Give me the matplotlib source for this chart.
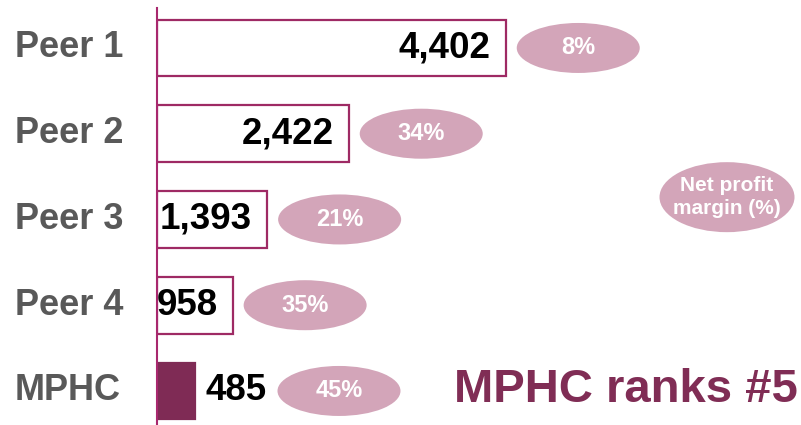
import matplotlib.pyplot as plt
from matplotlib.patches import Ellipse

# data
companies = ["Peer 1", "Peer 2", "Peer 3", "Peer 4", "MPHC"]
revenue = [4402, 2422, 1393, 958, 485]
margin = [8, 34, 21, 35, 45]

plum = "#9E2A64"
dark_plum = "#7F2B55"
pink = "#D3A5B9"
grey = "#595959"
font = "Liberation Sans"

fig = plt.figure(figsize=(8.01, 4.25), dpi=100)
ax = fig.add_axes([157 / 801, 0, 644 / 801, 417 / 425])

px = 0.0793          # pixels per unit of revenue
xmax = 644 / px
ax.set_xlim(0, xmax)
ax.set_ylim(4.397, -0.466)

y = list(range(len(companies)))
fills = ["white"] * (len(companies) - 1) + [dark_plum]
edges = [plum] * (len(companies) - 1) + [dark_plum]
ax.barh(y, revenue, height=0.66, color=fills, edgecolor=edges, linewidth=1.6, zorder=2)

ell_w = 123 / px
ell_h = 50 / 85.75
for i, (name, v, m) in enumerate(zip(companies, revenue, margin)):
    ax.text(-142 / px, i, name, ha="left", va="center", fontsize=26,
            fontweight="bold", color=grey, family=font, clip_on=False)
    if name == "MPHC":
        ax.annotate(f"{v:,}", (v, i), xytext=(7, 0), textcoords="offset points",
                    ha="left", va="center", fontsize=26.5, fontweight="bold",
                    color="black", family=font)
        cx = v + 1810
    else:
        ax.annotate(f"{v:,}", (v, i), xytext=(-11, 0), textcoords="offset points",
                    ha="right", va="center", fontsize=26.5, fontweight="bold",
                    color="black", family=font)
        cx = v + 910
    ax.add_patch(Ellipse((cx, i), ell_w, ell_h, facecolor=pink, edgecolor="none", zorder=3))
    ax.text(cx, i, f"{m}%", ha="center", va="center", fontsize=17, fontweight="bold",
            color="white", family=font, zorder=4)

# legend bubble
ax.add_patch(Ellipse(((727 - 157) / px, 1.74), 135 / px, 70 / 85.75,
                     facecolor=pink, edgecolor="none", zorder=3, clip_on=False))
ax.text((727 - 157) / px, 1.74, "Net profit\nmargin (%)", ha="center", va="center",
        fontsize=15, fontweight="bold", color="white", family=font, zorder=4,
        linespacing=1.3)

fig.text(0.996, 1 - 390 / 425, "MPHC ranks #5", ha="right", va="center",
         fontsize=34, fontweight="bold", color="#802D55", family=font)

for s in ["top", "right", "bottom"]:
    ax.spines[s].set_visible(False)
ax.spines["left"].set_color("#A8286E")
ax.spines["left"].set_linewidth(1.5)
ax.set_xticks([])
ax.set_yticks([])

fig.savefig("out.png", dpi=100)
